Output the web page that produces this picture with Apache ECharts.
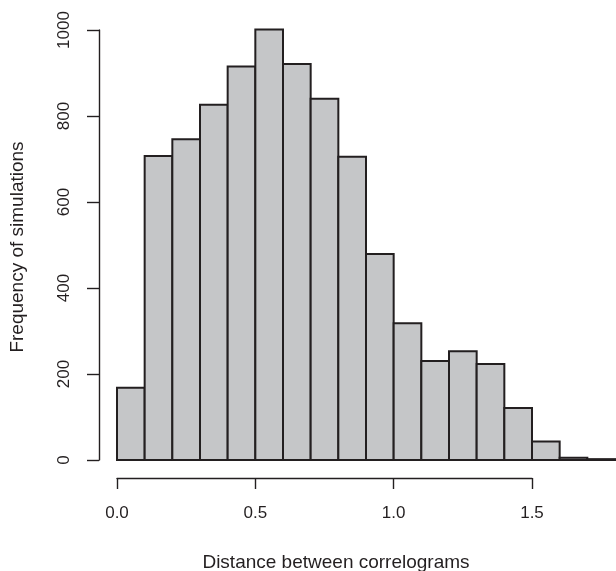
<!DOCTYPE html>
<html>
<head>
<meta charset="utf-8">
<style>
  html, body { margin: 0; padding: 0; background: #fff; }
  #chart { width: 616px; height: 571px; }
</style>
<script src="https://cdn.jsdelivr.net/npm/echarts@6/dist/echarts.min.js"></script>
</head>
<body>
<div id="chart"></div>
<script>
// histogram bins (left edges) and counts, width 0.1
var binStart = [0.0, 0.1, 0.2, 0.3, 0.4, 0.5, 0.6, 0.7, 0.8, 0.9, 1.0, 1.1, 1.2, 1.3, 1.4, 1.5, 1.6, 1.7];
var binWidth = 0.1;
var counts = [168, 707, 746, 826, 915, 1001, 921, 840, 705, 479, 318, 230, 253, 223, 121, 43, 5, 2];
var xTicks = [0.0, 0.5, 1.0, 1.5];
var yTicks = [0, 200, 400, 600, 800, 1000];

var xTitle = 'Distance between correlograms';
var yTitle = 'Frequency of simulations';

var ink = '#231f20';
var barFill = '#c5c6c8';
var font = '"Liberation Sans", Arial, Helvetica, sans-serif';

var chart = echarts.init(document.getElementById('chart'), null, { renderer: 'canvas' });

var bars = binStart.map(function(s, i) {
  return [s, s + binWidth, counts[i]];
});

chart.setOption({
  backgroundColor: '#fff',
  animation: false,
  grid: [
    { left: 117, width: 498, top: 30, height: 430 },
    { left: 117, width: 415, top: 30, height: 430 }
  ],
  xAxis: [
    { gridIndex: 0, type: 'value', min: 0, max: 1.8, show: false },
    {
      gridIndex: 1, type: 'value',
      min: xTicks[0], max: xTicks[xTicks.length - 1], interval: 0.5,
      offset: 18,
      axisLine: { show: true, onZero: false, lineStyle: { color: ink, width: 1.4 } },
      axisTick: { show: true, length: 11, lineStyle: { color: ink, width: 1.4 } },
      axisLabel: {
        color: ink, fontSize: 17, fontFamily: font, margin: 27,
        formatter: function(v) { return v.toFixed(1); }
      },
      splitLine: { show: false }
    }
  ],
  yAxis: [
    {
      gridIndex: 0, type: 'value',
      min: yTicks[0], max: yTicks[yTicks.length - 1], interval: 200,
      offset: 18,
      axisLine: { show: true, onZero: false, lineStyle: { color: ink, width: 1.4 } },
      axisTick: { show: true, length: 12, lineStyle: { color: ink, width: 1.4 } },
      axisLabel: {
        color: ink, fontSize: 17, fontFamily: font, rotate: 90, margin: 26,
        formatter: function(v) { return String(v); }
      },
      splitLine: { show: false }
    },
    { gridIndex: 1, type: 'value', min: 0, max: 1000, show: false }
  ],
  graphic: [
    {
      type: 'text', x: 336, y: 563,
      style: { text: xTitle, fill: ink, font: '19px ' + font, align: 'center', verticalAlign: 'middle' }
    },
    {
      type: 'text', x: 18, y: 247, rotation: Math.PI / 2,
      style: { text: yTitle, fill: ink, font: '19px ' + font, align: 'center', verticalAlign: 'middle' }
    }
  ],
  series: [{
    type: 'custom',
    xAxisIndex: 0,
    yAxisIndex: 0,
    clip: false,
    renderItem: function(params, api) {
      var p0 = api.coord([api.value(0), 0]);
      var p1 = api.coord([api.value(1), api.value(2)]);
      return {
        type: 'rect',
        shape: { x: p0[0], y: p1[1], width: p1[0] - p0[0], height: p0[1] - p1[1] },
        style: { fill: barFill, stroke: ink, lineWidth: 2 }
      };
    },
    encode: { x: [0, 1], y: 2 },
    data: bars
  }]
});
</script>
</body>
</html>
